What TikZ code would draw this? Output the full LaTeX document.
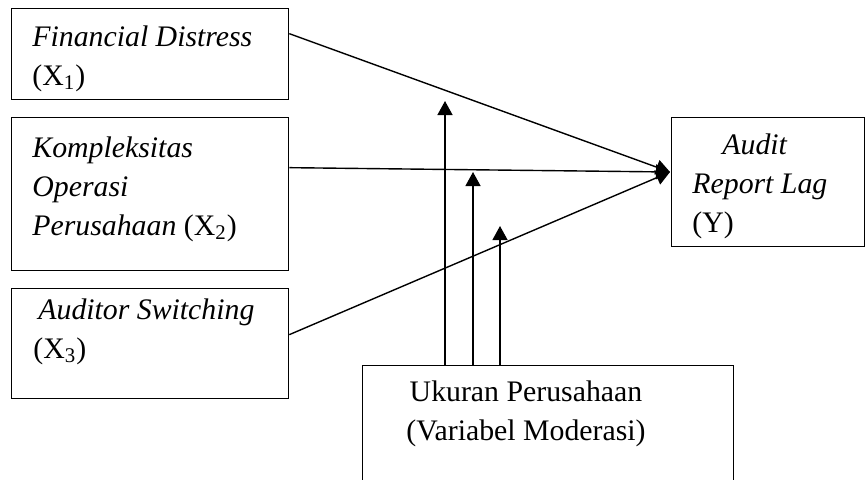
\documentclass[tikz,border=0pt]{standalone}
\usepackage{fontspec}
\setmainfont{Liberation Serif}
\usetikzlibrary{arrows.meta}

\begin{document}
\begin{tikzpicture}[
  x=0.5pt, y=-0.5pt,
  >={Triangle[length=7pt,width=7.5pt]},
  box/.style={draw,line width=0.65pt,inner sep=0pt,anchor=north west},
  txt/.style={anchor=base west,inner sep=0pt,align=left,font=\fontsize{14.9}{19.5}\selectfont},
  link/.style={->,line width=0.7pt}
]
\useasboundingbox (0,0) rectangle (865,479);

% independent variables (text placed by its last baseline)
\node[box,minimum width=138.5pt,minimum height=45.5pt] (fd) at (11,8) {};
\node[txt] (fdt) at (32,85) {\textit{Financial Distress}\\(X\textsubscript{1})};

\node[box,minimum width=138.5pt,minimum height=76.5pt] (kop) at (11,117) {};
\node[txt] (kopt) at (32,235) {\textit{Kompleksitas}\\\textit{Operasi}\\\textit{Perusahaan} (X\textsubscript{2})};

\node[box,minimum width=138.5pt,minimum height=55pt] (as) at (11,288) {};
\node[txt] (ast) at (33,358) {\hspace{2.5pt}\textit{Auditor Switching}\\(X\textsubscript{3})};

% dependent variable
\node[box,minimum width=96.5pt,minimum height=64.5pt] (arl) at (671,117) {};
\node[txt] (arlt) at (692,232) {\hspace{15pt}\textit{Audit}\\\textit{Report Lag}\\(Y)};

% moderating variable
\node[box,minimum width=185.5pt,minimum height=65pt] (up) at (362,365) {};
\node[txt,align=center,anchor=base] (upt) at (526,440) {Ukuran Perusahaan\\(Variabel Moderasi)};

\coordinate (tip) at (670,172);
\coordinate (m1) at (445,101);
\coordinate (m2) at (473,172);
\coordinate (m3) at (500,226);

\draw[link] ([yshift=10.25pt]fd.east) -- (tip);
\draw[link] ([yshift=13.25pt]kop.east) -- (tip);
\draw[link] ([yshift=4.5pt]as.east) -- (tip);

\foreach \m in {m1,m2,m3}
  \draw[link] (up.north -| \m) -- (\m);
\end{tikzpicture}
\end{document}
